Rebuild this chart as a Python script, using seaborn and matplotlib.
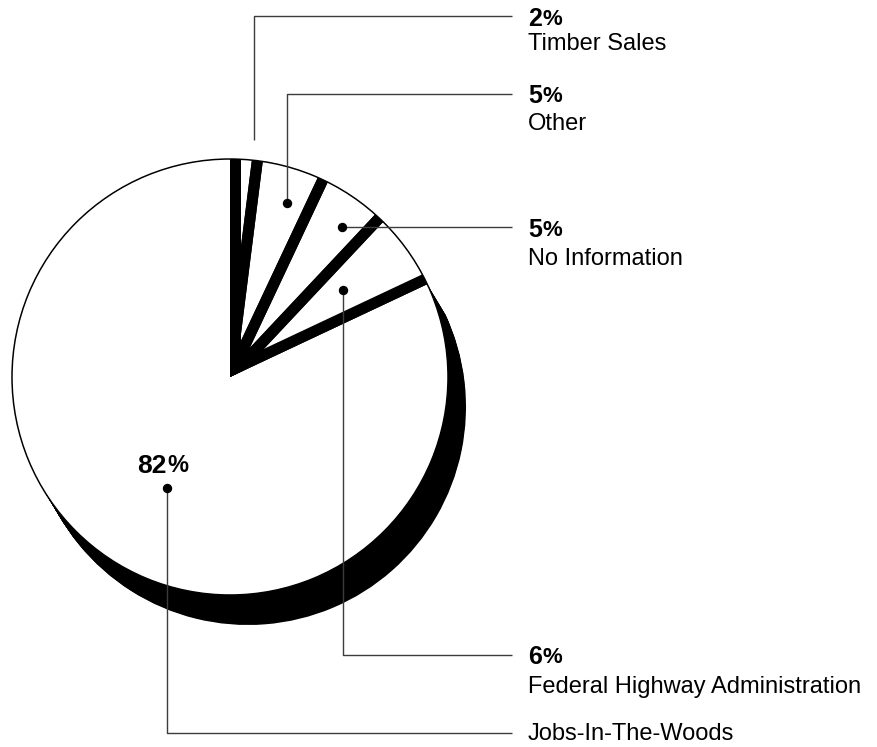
import numpy as np
import matplotlib
matplotlib.use("Agg")
import matplotlib.pyplot as plt
import seaborn as sns

# ---------------- data ----------------
categories = ["Timber Sales", "Other", "No Information",
              "Federal Highway Administration", "Jobs-In-The-Woods"]
shares = [2, 5, 5, 6, 82]
share_labels = ["2", "5", "5", "6", "82"]

# ---------------- style ----------------
sns.set_theme(style="white")
plt.rcParams["font.family"] = ["Liberation Sans", "DejaVu Sans"]

W, H = 878, 747
fig = plt.figure(figsize=(W / 100, H / 100), dpi=100)
ax = fig.add_axes([0, 0, 1, 1])


def Y(y):
    return H - y


PX = 72 / 100  # points per pixel
C = np.array([230.0, Y(377)])
R = 218.0
SHADOW = np.array([18.0, -30.0])
n_small = len(shares) - 1
common = dict(startangle=90, counterclock=False)

# 3-D shadow of the big slice (swept copies)
for t in np.linspace(0, 1, 41):
    ax.pie(shares, center=tuple(C + t * SHADOW), radius=R,
           colors=["none"] * n_small + ["black"],
           wedgeprops=dict(linewidth=0), **common)

# black base under the small slices
region, _ = ax.pie([sum(shares[:-1]), shares[-1]], center=tuple(C), radius=R,
                   colors=["black", "none"], wedgeprops=dict(linewidth=0), **common)

# white faces of all slices
ax.pie(shares, center=tuple(C), radius=R, colors=["white"] * len(shares),
       wedgeprops=dict(linewidth=0), **common)

# thick black separators between the small slices (clipped to the small-slice sector)
strips, _ = ax.pie(shares, center=tuple(C), radius=R + 20, colors=["none"] * len(shares),
                   wedgeprops=dict(edgecolor="black", linewidth=11 * PX), **common)
strips[-1].set_linewidth(22 * PX)
for w in strips:
    w.set_clip_on(True)
    w.set_clip_path(region[0])

# thin outline
ax.pie([1], center=tuple(C), radius=R, colors=["none"],
       wedgeprops=dict(edgecolor="black", linewidth=1.5 * PX), **common)

# ---------------- leaders & labels ----------------
LINE_C = "#3c3c3c"
LW = 1.4 * PX
leaders = [
    dict(path=[(254, 140), (254, 16), (512, 16)], dot=None, num_base=26, name_base=50),
    dict(path=[(287, 203), (287, 94), (512, 94)], dot=(287, 203), num_base=103, name_base=130),
    dict(path=[(342, 227), (512, 227)], dot=(342, 227), num_base=237, name_base=265),
    dict(path=[(343, 290), (343, 655), (512, 655)], dot=(343, 290), num_base=664, name_base=693),
    dict(path=[(167, 488), (167, 733), (512, 733)], dot=(167, 488), num_base=None, name_base=None),
]
TX = 528
NUM_FS, PCT_FS, NAME_FS = 18, 16, 17

for cat, lab, ld in zip(categories, share_labels, leaders):
    xs = [p[0] for p in ld["path"]]
    ys = [Y(p[1]) for p in ld["path"]]
    ax.plot(xs, ys, color=LINE_C, lw=LW, solid_capstyle="butt", zorder=5)
    if ld["dot"] is not None:
        ax.plot(ld["dot"][0], Y(ld["dot"][1]), "o", color="black", ms=8 * PX, zorder=6)
    if ld["num_base"] is not None:
        t = ax.text(TX, Y(ld["num_base"]), lab, fontsize=NUM_FS, fontweight="bold",
                    ha="left", va="baseline", color="black")
        ax.annotate("%", xy=(1, 0), xycoords=t, xytext=(0.3, 0.4), textcoords="offset points",
                    ha="left", va="bottom", fontsize=PCT_FS, fontweight="bold", color="black")
        ax.text(TX, Y(ld["name_base"]), cat, fontsize=NAME_FS, ha="left", va="baseline",
                color="black")
    else:
        # big slice: percentage above its dot, name at the end of the leader
        t = ax.text(ld["dot"][0], Y(473), lab, fontsize=NUM_FS + 1, fontweight="bold",
                    ha="right", va="baseline", color="black")
        ax.annotate("%", xy=(1, 0), xycoords=t, xytext=(0.3, 0.4), textcoords="offset points",
                    ha="left", va="bottom", fontsize=PCT_FS + 1, fontweight="bold", color="black")
        ax.text(TX, Y(ld["path"][-1][1]) - 1, cat, fontsize=NAME_FS, ha="left", va="center",
                color="black")

ax.set_xlim(0, W)
ax.set_ylim(0, H)
ax.set_aspect("equal")
ax.axis("off")
fig.savefig("out.png", dpi=100, facecolor="white")
